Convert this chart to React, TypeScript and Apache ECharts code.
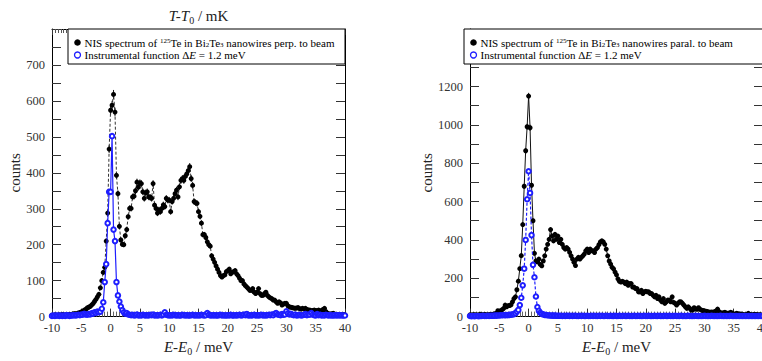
import React, { useEffect, useRef } from "react";
import * as echarts from "echarts";

// Energy sampling of the spectra (meV)
const energyStart = -10;
const energyStep = 0.25;

// Perpendicular-to-beam NIS spectrum (counts), E = -10 ... 40 meV
const perpCounts = [
  4, 3, 5, 4, 3, 5, 4, 6, 5, 4, 6, 5, 6, 5, 7, 8, 8, 7, 10, 11,
  13, 15, 18, 20, 24, 26, 28, 32, 36, 42, 48, 55, 62, 80, 100, 123,
  137, 210, 288, 466, 574, 588, 618, 569, 393, 342, 251, 213,
  201, 200, 225, 242, 278, 301, 301, 333, 335, 350, 374, 360,
  372, 370, 347, 329, 344, 347, 333, 332, 329, 370, 310, 301,
  288, 297, 292, 301, 311, 306, 329, 324, 324, 292, 320, 329,
  342, 352, 333, 361, 379, 384, 379, 390, 397, 406, 417, 384,
  365, 320, 317, 315, 292, 279, 260, 228, 228, 220, 208, 200,
  196, 169, 160, 151, 141, 132, 123, 114, 110, 114, 116, 125,
  128, 132, 119, 123, 125, 128, 119, 114, 107, 100, 100, 91,
  86, 82, 78, 73, 73, 78, 68, 64, 68, 78, 64, 59, 59, 64, 68, 59,
  55, 52, 50, 46, 46, 41, 37, 41, 38, 32, 35, 37, 37, 30, 27, 26,
  25, 24, 23, 24, 25, 22, 21, 23, 21, 23, 20, 18, 18, 16, 17, 18,
  17, 16, 18, 16, 16, 20, 23, 14, 9, 8, 6, 8, 9, 7, 5, 6, 5, 6, 5, 6,
  5,
];

// Instrumental function measured with the perpendicular spectrum
const perpInstrument = [
  2, 3, 2, 3, 3, 2, 3, 2, 3, 2, 4, 3, 2, 3, 3, 4, 3, 4, 5, 4,
  6, 5, 8, 6, 5, 7, 6, 9, 8, 12, 10, 14, 12, 14, 22, 40,
  96, 146, 260, 347, 347, 502, 242, 210, 96, 59, 42, 28,
  18, 12, 8, 10, 6, 5, 4, 5, 3, 4, 6, 3, 4, 3, 5, 4, 3, 4, 3, 5,
  4, 6, 3, 4, 3, 4, 5, 3, 6, 12, 5, 4, 3, 4, 3, 5, 4, 3, 4, 3,
  3, 5, 4, 3, 4, 3, 3, 4, 5, 3, 4, 3, 4, 3, 5, 4, 3, 4, 10, 5,
  3, 4, 3, 4, 3, 3, 4, 5, 3, 4, 3, 3, 4, 3, 5, 3, 3, 4, 3, 4,
  5, 3, 4, 6, 4, 7, 3, 4, 3, 4, 5, 3, 4, 3, 4, 5, 3, 4, 3, 4,
  5, 4, 6, 4, 8, 10, 6, 5, 4, 7, 5, 6, 15, 9, 6, 8, 5, 4, 6, 3,
  4, 5, 3, 4, 5, 7, 4, 6, 5, 10, 6, 4, 3, 7, 4, 5, 3, 4, 3, 5,
  4, 3, 4, 3, 3, 4, 3, 4, 3, 4, 3, 3, 3,
];

// Parallel-to-beam NIS spectrum (counts)
const paralCounts = [
  9, 8, 10, 9, 9, 8, 9, 12, 10, 9, 11, 9, 9, 10, 11, 12, 12, 15, 17, 31,
  26, 30, 36, 43, 60, 51, 57, 58, 62, 77, 94, 103, 140, 185, 250, 318,
  480, 680, 865, 990, 1150, 985, 685, 500, 330, 290, 285, 300,
  272, 265, 290, 317, 352, 377, 403, 454, 420, 395, 429, 403,
  420, 386, 403, 377, 360, 352, 360, 352, 335, 317, 300, 283,
  266, 300, 309, 300, 309, 317, 326, 343, 352, 334, 352, 343,
  343, 334, 352, 360, 375, 389, 395, 389, 377, 352, 317, 290,
  274, 257, 249, 232, 218, 197, 184, 180, 184, 180, 172, 180,
  163, 172, 172, 154, 154, 146, 146, 129, 129, 137, 120, 129,
  132, 129, 129, 120, 120, 111, 103, 111, 94, 103, 86, 77,
  94, 69, 77, 86, 86, 77, 103, 74, 69, 60, 69, 77, 77, 69, 60, 51,
  43, 51, 43, 34, 34, 46, 40, 38, 46, 38, 34, 32, 29, 28, 26, 24,
  22, 24, 22, 26, 29, 39, 26, 20, 17, 20, 22, 18, 17, 19, 22, 18,
  12, 14, 17, 15, 12, 14, 12, 10, 9, 12, 17, 11, 9, 10, 12, 11, 9, 10, 9, 8,
  9,
];

// Instrumental function measured with the parallel spectrum
const paralInstrument = [
  3, 2, 3, 2, 3, 3, 2, 3, 3, 4, 3, 3, 4, 3, 4, 4, 4, 5, 5, 6,
  6, 7, 7, 8, 7, 8, 8, 9, 10, 11, 13, 18, 26, 35, 60, 98,
  163, 250, 400, 612, 758, 645, 425, 270, 205, 105, 50, 30,
  20, 14, 11, 9, 8, 7, 6, 6, 5, 5, 5, 4, 4, 4, 4, 3, 4, 3, 4, 4,
  3, 4, 3, 4, 4, 3, 3, 4, 3, 4, 3, 3, 4, 3, 3, 4, 3, 4, 3, 3,
  4, 3, 4, 3, 3, 4, 3, 3, 4, 3, 3, 4, 3, 3, 4, 3, 3, 4, 3, 3,
  4, 3, 3, 3, 4, 3, 3, 4, 3, 3, 3, 4, 3, 3, 4, 3, 3, 3, 4, 3,
  3, 4, 3, 3, 3, 4, 3, 3, 4, 3, 3, 3, 4, 3, 3, 3, 4, 3, 3, 3,
  3, 4, 3, 3, 3, 3, 4, 3, 3, 3, 3, 3, 4, 3, 3, 3, 3, 4, 3, 3,
  3, 3, 3, 4, 3, 3, 3, 3, 3, 3, 4, 3, 3, 3, 3, 3, 3, 3, 3, 3,
  3, 3, 3, 3, 3, 3, 3, 3, 3, 3, 3, 3, 3,
];

const xTicks = { min: -10, max: 40, interval: 5 };
const perpAxis = { min: 0, max: 800, interval: 100, lastLabel: 700 };
const paralAxis = { min: 0, max: 1500, interval: 200, lastLabel: 1200 };

const legendPerp = "NIS spectrum of {sup|125}Te in Bi{sub|2}Te{sub|3} nanowires perp. to beam";
const legendParal = "NIS spectrum of {sup|125}Te in Bi{sub|2}Te{sub|3} nanowires paral. to beam";
const legendInstr = "Instrumental function Δ{it|E} = 1.2 meV";

const FONT = '"Liberation Serif", "DejaVu Serif", serif';
const BLUE = "#1e1eff";

const pairs = (vals: number[]) => vals.map((v, i) => [energyStart + i * energyStep, v]);

const nameRich = {
  it: { fontFamily: FONT, fontSize: 15, fontStyle: "italic", color: "#222", lineHeight: 18 },
  n: { fontFamily: FONT, fontSize: 15, color: "#222", lineHeight: 18 },
  sub: { fontFamily: FONT, fontSize: 10, color: "#222", verticalAlign: "bottom", lineHeight: 10 },
};

function bottomX(gridIndex: number) {
  return {
    type: "value",
    gridIndex,
    position: "bottom",
    min: xTicks.min,
    max: xTicks.max,
    interval: xTicks.interval,
    axisLine: { onZero: false, lineStyle: { color: "#000", width: 1 } },
    axisTick: { inside: true, length: 8, lineStyle: { color: "#333" } },
    minorTick: { show: true, splitNumber: 10, length: 5, lineStyle: { color: "#666" } },
    splitLine: { show: false },
    axisLabel: { fontFamily: FONT, fontSize: 12.5, color: "#333", margin: 5 },
    name: "{it|E-E}{sub|0}{n| / meV}",
    nameLocation: "middle",
    nameGap: 19,
    nameTextStyle: { rich: nameRich },
  };
}

function topX(gridIndex: number, withName: boolean) {
  return {
    type: "value",
    gridIndex,
    position: "top",
    min: xTicks.min,
    max: xTicks.max,
    interval: xTicks.interval,
    axisLine: { onZero: false, lineStyle: { color: "#000", width: 1 } },
    axisTick: { inside: true, length: 6, lineStyle: { color: "#333" } },
    minorTick: { show: true, splitNumber: 10, length: 4, lineStyle: { color: "#555" } },
    splitLine: { show: false },
    axisLabel: { show: false },
    name: withName ? "{it|T-T}{sub|0}{n| / mK}" : "",
    nameLocation: "middle",
    nameGap: 4,
    nameTextStyle: { rich: nameRich },
  };
}

function leftY(gridIndex: number, ax: typeof perpAxis, gap: number) {
  return {
    type: "value",
    gridIndex,
    position: "left",
    min: ax.min,
    max: ax.max,
    interval: ax.interval,
    axisLine: { onZero: false, lineStyle: { color: "#000", width: 1 } },
    axisTick: { inside: true, length: 9, lineStyle: { color: "#333" } },
    minorTick: { show: true, splitNumber: 2, length: 9, lineStyle: { color: "#333" } },
    splitLine: { show: false },
    axisLabel: {
      fontFamily: FONT,
      fontSize: 12.5,
      color: "#333",
      margin: 7,
      formatter: (v: number) => (v > ax.lastLabel ? "" : String(v)),
    },
    name: "counts",
    nameLocation: "middle",
    nameGap: gap,
    nameRotate: 90,
    nameTextStyle: { fontFamily: FONT, fontSize: 15, color: "#222" },
  };
}

function rightY(gridIndex: number, ax: typeof perpAxis) {
  return {
    type: "value",
    gridIndex,
    position: "right",
    min: ax.min,
    max: ax.max,
    interval: ax.interval,
    axisLine: { onZero: false, lineStyle: { color: "#000", width: 1 } },
    axisTick: { inside: true, length: 9, lineStyle: { color: "#333" } },
    minorTick: { show: true, splitNumber: 2, length: 9, lineStyle: { color: "#333" } },
    splitLine: { show: false },
    axisLabel: { show: false },
  };
}

function errorBars(vals: number[], axisIndex: number) {
  return {
    type: "custom",
    xAxisIndex: axisIndex,
    yAxisIndex: axisIndex,
    z: 2,
    clip: true,
    data: pairs(vals),
    renderItem: (_p: any, api: any) => {
      const x = api.value(0);
      const y = api.value(1);
      const e = 0.5 * Math.sqrt(Math.max(y, 0));
      const a = api.coord([x, y - e]);
      const b = api.coord([x, y + e]);
      return {
        type: "line",
        shape: { x1: a[0], y1: a[1], x2: b[0], y2: b[1] },
        style: { stroke: "#000", lineWidth: 0.9 },
      };
    },
  };
}

const legendRich = {
  sup: { fontFamily: FONT, fontSize: 7, verticalAlign: "top", fill: "#000", lineHeight: 7 },
  sub: { fontFamily: FONT, fontSize: 7, verticalAlign: "bottom", fill: "#000", lineHeight: 7 },
  it: { fontFamily: FONT, fontSize: 11, fontStyle: "italic", fill: "#000" },
};

function legendBox(left: number, width: number, firstLine: string) {
  const top = 29;
  return {
    type: "group",
    z: 100,
    children: [
      {
        type: "rect",
        z: 100,
        shape: { x: left, y: top, width, height: 35 },
        style: { fill: "#fff", stroke: "#000", lineWidth: 1 },
      },
      {
        type: "circle",
        z: 101,
        shape: { cx: left + 9.5, cy: top + 13.5, r: 3.3 },
        style: { fill: "#000" },
      },
      {
        type: "circle",
        z: 101,
        shape: { cx: left + 9.5, cy: top + 26, r: 3 },
        style: { fill: "#fff", stroke: BLUE, lineWidth: 1.3 },
      },
      {
        type: "text",
        z: 101,
        x: left + 16.5,
        y: top + 13.5,
        style: {
          text: firstLine,
          fontFamily: FONT,
          fontSize: 11,
          fill: "#000",
          verticalAlign: "middle",
          rich: legendRich,
        },
      },
      {
        type: "text",
        z: 101,
        x: left + 16.5,
        y: top + 26,
        style: {
          text: legendInstr,
          fontFamily: FONT,
          fontSize: 11,
          fill: "#000",
          verticalAlign: "middle",
          rich: legendRich,
        },
      },
    ],
  };
}

export default function App() {
  const ref = useRef<HTMLDivElement>(null);
  useEffect(() => {
    document.body.style.overflow = "hidden";
    if (!ref.current) return;
    const chart = echarts.init(ref.current, undefined, { renderer: "svg" });
    chart.setOption({
      animation: false,
      backgroundColor: "#fff",
      grid: [
        { left: 52, top: 29, width: 293, height: 293 },
        { left: 470, top: 29, width: 293, height: 293 },
      ],
      xAxis: [bottomX(0), topX(0, true), bottomX(1), topX(1, false)],
      yAxis: [leftY(0, perpAxis, 29), rightY(0, perpAxis), leftY(1, paralAxis, 32), rightY(1, paralAxis)],
      series: [
        errorBars(perpCounts, 0),
        {
          type: "line",
          name: "perp",
          xAxisIndex: 0,
          yAxisIndex: 0,
          z: 3,
          data: pairs(perpCounts),
          symbol: "circle",
          symbolSize: 5,
          showAllSymbol: true,
          itemStyle: { color: "#000" },
          lineStyle: { color: "#333", width: 1, type: [3, 2] },
        },
        {
          type: "line",
          name: "perpInstr",
          xAxisIndex: 0,
          yAxisIndex: 0,
          z: 4,
          data: pairs(perpInstrument),
          symbol: "emptyCircle",
          symbolSize: 4.5,
          showAllSymbol: true,
          itemStyle: { color: BLUE, borderColor: BLUE, borderWidth: 1 },
          lineStyle: { color: BLUE, width: 1.2 },
        },
        errorBars(paralCounts, 2),
        {
          type: "line",
          name: "paral",
          xAxisIndex: 2,
          yAxisIndex: 2,
          z: 3,
          data: pairs(paralCounts),
          symbol: "circle",
          symbolSize: 5,
          showAllSymbol: true,
          itemStyle: { color: "#000" },
          lineStyle: { color: "#111", width: 1 },
        },
        {
          type: "line",
          name: "paralInstr",
          xAxisIndex: 2,
          yAxisIndex: 2,
          z: 4,
          data: pairs(paralInstrument),
          symbol: "emptyCircle",
          symbolSize: 4.5,
          showAllSymbol: true,
          itemStyle: { color: BLUE, borderColor: BLUE, borderWidth: 1 },
          lineStyle: { color: BLUE, width: 1.2, type: [3, 2] },
        },
      ],
      graphic: [legendBox(68, 277, legendPerp), legendBox(464, 320, legendParal)],
    });
    return () => chart.dispose();
  }, []);
  return (
    <div
      ref={ref}
      style={{ position: "fixed", left: 0, top: 0, width: 790, height: 361, background: "#fff" }}
    />
  );
}
